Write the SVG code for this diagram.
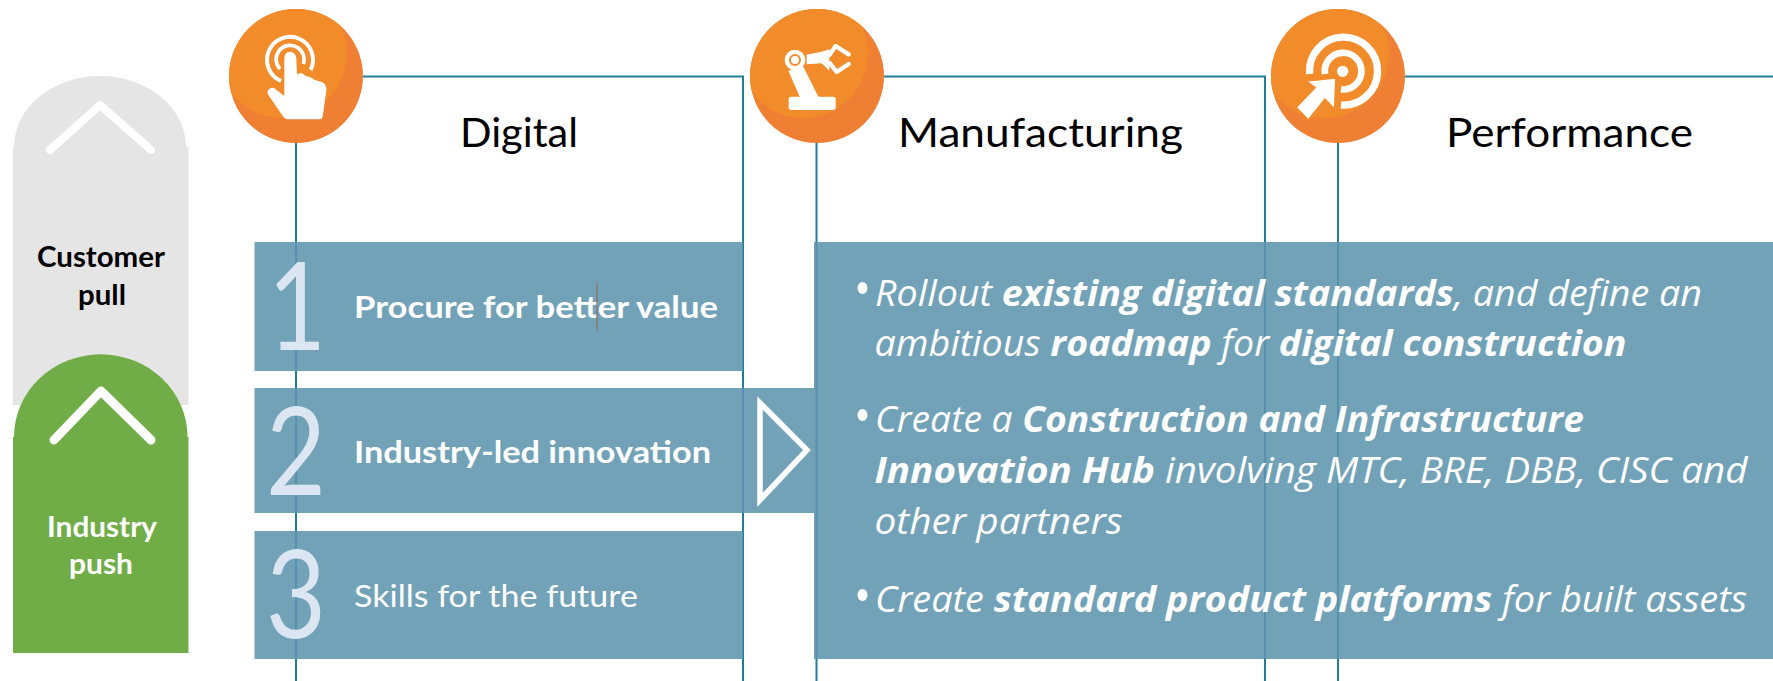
<svg xmlns="http://www.w3.org/2000/svg" width="1773" height="681" viewBox="0 0 1773 681">
<style>
.conn{stroke:#1f7f99;stroke-width:2;fill:none}
.box{fill:#5f95ad;fill-opacity:.88}
.digit{font-family:Lato,"Open Sans",sans-serif;font-weight:400;font-size:122px;fill:#dce6f2}
.head{font-family:Lato,"Open Sans",sans-serif;font-size:41px;fill:#000}
.side{font-family:Lato,"Open Sans",sans-serif;font-size:28px;font-weight:700}
.item{font-family:Lato,"Open Sans",sans-serif;font-size:31px;fill:#fff}
.body{font-family:"Open Sans","Noto Sans",sans-serif;font-size:36px;font-style:italic;fill:#fff}
.body tspan.b{font-weight:700}
.chev{fill:none;stroke:#fff;stroke-linecap:round;stroke-linejoin:round}
.ic{fill:#fff}
.ics{fill:none;stroke:#fff}
</style>
<defs>
<clipPath id="cc"><circle cx="0" cy="0" r="67"/></clipPath>
<g id="disc">
<circle r="67" fill="#ee7f33"/>
<circle cx="-14" cy="-23" r="65" fill="#f28b29" clip-path="url(#cc)"/>
</g>
</defs>
<rect width="1773" height="681" fill="#fff"/>
<g id="connectors">
<path class="conn" d="M363 76.500H743V681"/>
<path class="conn" d="M884 76.500H1265V681"/>
<path class="conn" d="M1405 76.500H1773"/>
<path class="conn" d="M296 143V681"/>
<path class="conn" d="M816.500 143V681"/>
<path class="conn" d="M1338 143V681"/>
</g>
<g id="customer-pull">
<path d="M13 405V147H14A86 71 0 0 1 186 147H188.500V405Z" fill="#e5e5e5"/>
<path class="chev" stroke-width="8" d="M50 150L100 105L151 150"/>
<text class="side" x="101" y="267" text-anchor="middle" textLength="128" lengthAdjust="spacingAndGlyphs" fill="#000">Customer</text>
<text class="side" x="102" y="305" text-anchor="middle" textLength="48" lengthAdjust="spacingAndGlyphs" fill="#000">pull</text>
</g>
<g id="industry-push">
<path d="M13 653V437H14A86 82 0 0 1 187.500 437H188.500V653Z" fill="#70ad47"/>
<path class="chev" stroke-width="9" d="M54 440L101 391L151 440"/>
<text class="side" x="102" y="537" text-anchor="middle" textLength="110" lengthAdjust="spacingAndGlyphs" fill="#fff">Industry</text>
<text class="side" x="101" y="574" text-anchor="middle" textLength="64" lengthAdjust="spacingAndGlyphs" fill="#fff">push</text>
</g>
<g id="step-1">
<rect class="box" x="254.500" y="242" width="488.500" height="129"/>
<text class="digit" x="268" y="350" textLength="58" lengthAdjust="spacingAndGlyphs">1</text>
<text class="item" x="354" y="318" font-weight="700" textLength="364" lengthAdjust="spacingAndGlyphs">Procure for better value</text>
<path d="M597 283V331" stroke="#8a7a72" stroke-width="1.500"/>
</g>
<g id="step-2">
<rect class="box" x="254.500" y="388" width="559.500" height="125"/>
<text class="digit" x="266" y="495" textLength="60" lengthAdjust="spacingAndGlyphs">2</text>
<text class="item" x="354" y="463" font-weight="700" textLength="357" lengthAdjust="spacingAndGlyphs">Industry-led innovation</text>
<path d="M760 403V500L807 450Z" fill="none" stroke="#fff" stroke-width="5.500"/>
</g>
<g id="step-3">
<rect class="box" x="254.500" y="531" width="488.500" height="128"/>
<text class="digit" x="266" y="638" textLength="60" lengthAdjust="spacingAndGlyphs">3</text>
<text class="item" x="354" y="607" textLength="284" lengthAdjust="spacingAndGlyphs">Skills for the future</text>
</g>
<g id="details">
<rect class="box" x="814" y="242" width="959" height="417"/>
<ellipse cx="862.500" cy="288" rx="5" ry="6" fill="#fff"/>
<ellipse cx="862.500" cy="415" rx="5" ry="6" fill="#fff"/>
<ellipse cx="862.500" cy="595" rx="5" ry="6" fill="#fff"/>
<text class="body" x="875" y="306" textLength="827" lengthAdjust="spacingAndGlyphs">Rollout <tspan class="b">existing digital standards</tspan>, and define an</text>
<text class="body" x="874.500" y="356" textLength="752" lengthAdjust="spacingAndGlyphs">ambitious <tspan class="b">roadmap</tspan> for <tspan class="b">digital construction</tspan></text>
<text class="body" x="875" y="432" textLength="709" lengthAdjust="spacingAndGlyphs">Create a <tspan class="b">Construction and Infrastructure</tspan></text>
<text class="body" x="874.500" y="483" textLength="873" lengthAdjust="spacingAndGlyphs"><tspan class="b">Innovation Hub</tspan> involving MTC, BRE, DBB, CISC and</text>
<text class="body" x="874.500" y="534" textLength="248" lengthAdjust="spacingAndGlyphs">other partners</text>
<text class="body" x="875" y="612" textLength="872" lengthAdjust="spacingAndGlyphs">Create <tspan class="b">standard product platforms</tspan> for built assets</text>
</g>
<g id="digital">
<use href="#disc" x="296" y="76"/>
<g transform="translate(220 0) scale(.3333)">
<path class="ics" stroke-width="12" d="M183 243A69 69 0 1 1 272 210"/>
<path class="ics" stroke-width="11" d="M180 207A42 42 0 1 1 250 192"/>
<path class="ic" d="M193 175Q193 155 210 155Q227 155 229 175L231 222L245 219L258 228L270 231L285 240L305 246Q321 252 319 272L308 350Q306 358 298 358L205 358Q195 358 190 350L145 285Q138 275 150 265Q160 260 170 270L193 288Z"/>
</g>
<text class="head" x="460" y="147" textLength="118" lengthAdjust="spacingAndGlyphs">Digital</text>
</g>
<g id="manufacturing">
<use href="#disc" x="817" y="76"/>
<g transform="translate(740 0) scale(.3333)">
<rect class="ic" x="146" y="290" width="141" height="40" rx="8"/>
<path class="ic" d="M145 212L190 200L236 292H180Z"/>
<circle class="ic" cx="165" cy="180" r="31"/>
<circle cx="165" cy="180" r="15" fill="none" stroke="#f28b29" stroke-width="6"/>
<path class="ic" d="M200 164L245 155L268 148V212L245 190L200 193Z"/>
<path class="ics" stroke-width="13" stroke-linecap="round" stroke-linejoin="round" d="M268 165L287 138L326 163M270 190L290 216L326 192"/>
</g>
<text class="head" x="898" y="147" textLength="285" lengthAdjust="spacingAndGlyphs">Manufacturing</text>
</g>
<g id="performance">
<use href="#disc" x="1338" y="76"/>
<g transform="translate(1260 0) scale(.3333)">
<path class="ics" stroke-width="22" d="M149 222A102 102 0 1 1 243 315"/>
<path class="ics" stroke-width="20" d="M195 222A55 55 0 1 1 243 268"/>
<circle class="ic" cx="248" cy="214" r="17"/>
<path class="ic" stroke="#f28b29" stroke-width="5" d="M228 234L138 243L165 263L108 322L145 360L195 298L224 328Z"/>
</g>
<text class="head" x="1446" y="147" textLength="247" lengthAdjust="spacingAndGlyphs">Performance</text>
</g>
</svg>
